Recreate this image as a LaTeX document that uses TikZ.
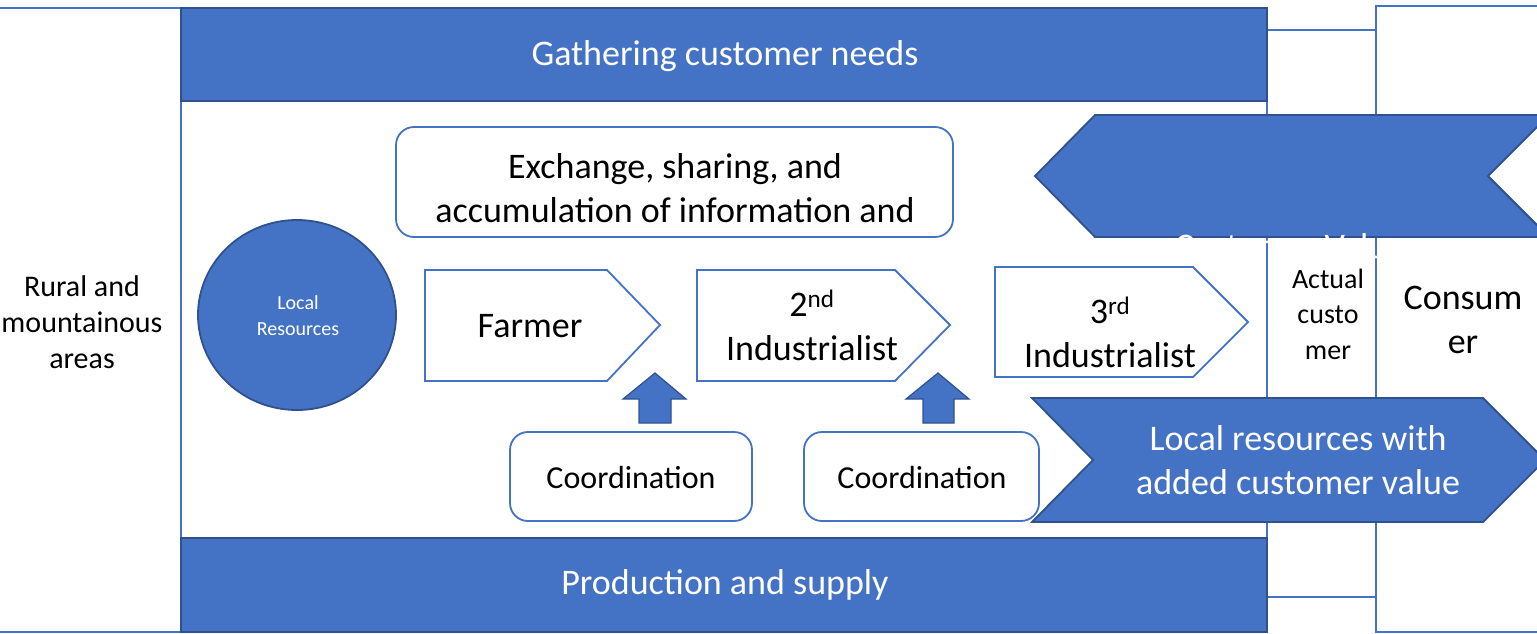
\documentclass[tikz,border=0pt]{standalone}
\usepackage{fontspec}
\setmainfont{Carlito}
\definecolor{accent}{HTML}{4472C4}
\definecolor{accentdark}{HTML}{2F528F}
\tikzset{
  frame/.style={draw=accent, line width=1.6pt},
  band/.style={fill=accent, draw=accentdark, line width=1.8pt},
  boxline/.style={draw=accent, line width=1.8pt, fill=white},
  txt/.style={font=\fontsize{36}{44}\selectfont, align=center, text=black, inner sep=0pt},
  wtxt/.style={txt, text=white},
}
\begin{document}
\begin{tikzpicture}[x=1pt, y=-1pt]
\clip (0,0) rectangle (1537,633);
\fill[white] (0,0) rectangle (1537,633);

% left region and main frame
\draw[frame] (-5,8) rectangle (181,632);
\node[txt, font=\fontsize{30}{36}\selectfont] (rural) at (82,322) {Rural and\\mountainous\\areas};
\draw[frame] (181,8) rectangle (1267,632);

% customer columns
\draw[frame] (1267,30) rectangle (1376,597);
\node[txt, font=\fontsize{28}{35.5}\selectfont] (actual) at (1328,314) {Actual\\custo\\mer};
\draw[frame] (1376,6) rectangle (1560,632);
\node[txt] (consumer) at (1463,320) {Consum\\er};

% top and bottom bands
\draw[band] (181,8) rectangle (1267,101);
\node[wtxt] (needs) at (725,56) {Gathering customer needs};
\draw[band] (181,538) rectangle (1267,632);
\node[wtxt] (supply) at (725,585) {Production and supply};

% local resources
\draw[band] (297,315) ellipse [x radius=99pt, y radius=95pt];
\node[wtxt, font=\fontsize{20}{26}\selectfont] (res) at (298,316) {Local\\Resources};

% information box
\draw[boxline, rounded corners=18pt] (396,127) rectangle (953,237);
\node[txt] (info) at (675,188) {Exchange, sharing, and\\accumulation of information and};

% value chain steps
\draw[boxline] (425,270) -- (607,270) -- (660,325) -- (607,381) -- (425,381) -- cycle;
\node[txt] (farmer) at (530,326) {Farmer};
\draw[boxline] (697,270) -- (895,270) -- (950,325) -- (895,381) -- (697,381) -- cycle;
\node[txt] (ind2) at (812,325) {2\textsuperscript{nd}\\Industrialist};
\draw[boxline] (995,267) -- (1193,267) -- (1248,322) -- (1193,377) -- (995,377) -- cycle;
\node[txt] (ind3) at (1110,332) {3\textsuperscript{rd}\\Industrialist};

% coordination arrows
\draw[band, line width=1.2pt] (655,373) -- (686,399) -- (671,399) -- (671,423) -- (639,423) -- (639,399) -- (623,399) -- cycle;
\draw[band, line width=1.2pt] (938,373) -- (969,399) -- (954,399) -- (954,423) -- (923,423) -- (923,399) -- (906,399) -- cycle;

% customer value chevrons
\draw[band] (1095,115) -- (1549,115) -- (1488,176) -- (1549,237) -- (1095,237) -- (1035,176) -- cycle;
\draw[band] (1032,398) -- (1483,398) -- (1545,460) -- (1483,522) -- (1032,522) -- (1093,460) -- cycle;
\node[wtxt] (added) at (1298,460) {Local resources with\\added customer value};

% coordination boxes
\draw[boxline, rounded corners=18pt] (510,432) rectangle (752,521);
\node[txt, font=\fontsize{32}{40}\selectfont] (coord1) at (631,477) {Coordination};
\draw[boxline, rounded corners=18pt] (804,432) rectangle (1039,521);
\node[txt, font=\fontsize{32}{40}\selectfont] (coord2) at (922,477) {Coordination};

% label of the upper chevron, white on white below it
\node[wtxt, anchor=base, text depth=0pt] (cvalue) at (1290,258) {Customer Value};
\end{tikzpicture}
\end{document}
